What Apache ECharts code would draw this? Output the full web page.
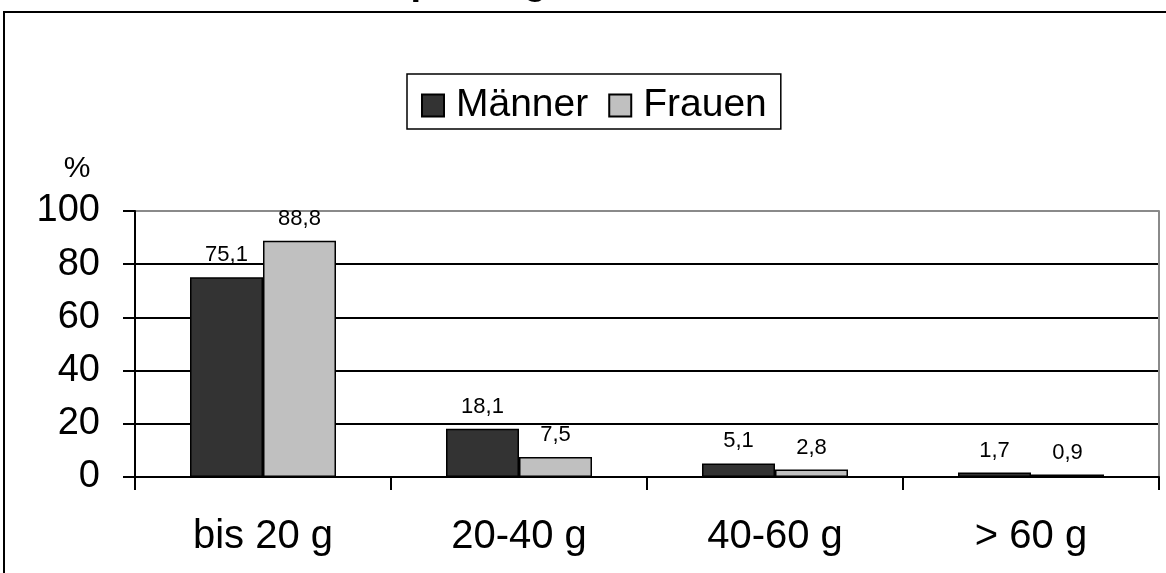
<!DOCTYPE html>
<html>
<head>
<meta charset="utf-8">
<script src="https://cdn.jsdelivr.net/npm/echarts@6/dist/echarts.min.js"></script>
<style>
  html, body { margin: 0; padding: 0; background: #fff; }
  #chart { width: 1166px; height: 573px; }
</style>
</head>
<body>
<div id="chart"></div>
<script>
// Alcohol intake groups (grams per day)
const categories = ['bis 20 g', '20-40 g', '40-60 g', '> 60 g'];
// Share of respondents in each group, percent
const maenner = [75.1, 18.1, 5.1, 1.7];
const frauen = [88.8, 7.5, 2.8, 0.9];
const seriesNames = ['Männer', 'Frauen'];
const yTicks = { min: 0, max: 100, interval: 20 };

const FONT = '"Liberation Sans", Arial, sans-serif';
const fmt = v => String(v.value).replace('.', ',');

const chart = echarts.init(document.getElementById('chart'), null, { renderer: 'canvas' });

const labelStyle = {
  show: true,
  position: 'top',
  distance: 11,
  fontFamily: FONT,
  fontSize: 22,
  color: '#000',
  formatter: fmt
};

chart.setOption({
  backgroundColor: '#fff',
  animation: false,
  textStyle: { fontFamily: FONT },
  graphic: [
    {
      type: 'rect',
      shape: { x: 4, y: 12, width: 1300, height: 700 },
      style: { fill: null, stroke: '#000', lineWidth: 2 },
      silent: true,
      z: -1
    },
    {
      type: 'text',
      x: 547,
      y: -16,
      style: {
        text: 'Alkoholkonsum pro Tag',
        font: 'bold 38px ' + FONT,
        fill: '#000',
        align: 'right',
        verticalAlign: 'middle'
      }
    },
    {
      type: 'text',
      x: 77,
      y: 169,
      style: {
        text: '%',
        font: '30px ' + FONT,
        fill: '#000',
        align: 'center',
        verticalAlign: 'middle'
      }
    }
  ],
  legend: {
    data: seriesNames,
    left: 407,
    top: 74,
    orient: 'horizontal',
    padding: [12, 14, 4, 14],
    itemGap: 20,
    itemWidth: 22,
    itemHeight: 22,
    icon: 'rect',
    borderColor: '#000',
    borderWidth: 1.5,
    backgroundColor: '#fff',
    textStyle: {
      fontFamily: FONT,
      fontSize: 39,
      lineHeight: 39,
      color: '#000',
      padding: [0, 0, 0, 7]
    }
  },
  grid: {
    left: 135,
    right: 7,
    top: 211,
    bottom: 96,
    containLabel: false
  },
  xAxis: {
    type: 'category',
    data: categories,
    boundaryGap: true,
    axisLine: { show: true, lineStyle: { color: '#000', width: 2 } },
    axisTick: { show: true, length: 13, inside: false, alignWithLabel: false, lineStyle: { color: '#000', width: 2 } },
    axisLabel: { fontFamily: FONT, fontSize: 40, color: '#000', margin: 40 },
    splitLine: { show: false }
  },
  yAxis: [
    {
      type: 'value',
      min: yTicks.min,
      max: yTicks.max,
      interval: yTicks.interval,
      axisLine: { show: true, lineStyle: { color: '#000', width: 2 } },
      axisTick: { show: true, length: 12, lineStyle: { color: '#000', width: 2 } },
      axisLabel: { fontFamily: FONT, fontSize: 38, color: '#000', margin: 35 },
      splitLine: {
        show: true,
        lineStyle: { color: ['#000', '#000', '#000', '#000', '#000', '#8a8a8a'], width: 2 }
      }
    },
    {
      type: 'value',
      position: 'right',
      min: yTicks.min,
      max: yTicks.max,
      interval: yTicks.interval,
      axisLine: { show: true, lineStyle: { color: '#8a8a8a', width: 2 } },
      axisTick: { show: false },
      axisLabel: { show: false },
      splitLine: { show: false }
    }
  ],
  series: [
    {
      name: seriesNames[0],
      type: 'bar',
      data: maenner,
      barWidth: 73,
      barGap: '0%',
      itemStyle: { color: '#333333', borderColor: '#000', borderWidth: 1.5 },
      label: labelStyle
    },
    {
      name: seriesNames[1],
      type: 'bar',
      data: frauen,
      barWidth: 73,
      barGap: '0%',
      itemStyle: { color: '#c0c0c0', borderColor: '#000', borderWidth: 1.5 },
      label: labelStyle
    }
  ]
});
</script>
</body>
</html>
